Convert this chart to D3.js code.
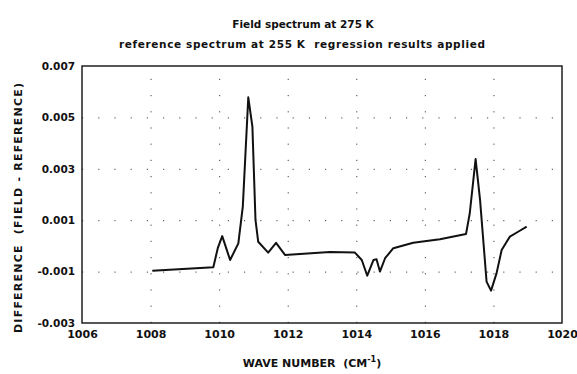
<!DOCTYPE html>
<html>
<head>
<meta charset="utf-8">
<script src="https://cdn.jsdelivr.net/npm/d3@7"></script>
<style>
  html, body { margin: 0; padding: 0; background: #fff; }
  svg { display: block; }
  text { font-family: "DejaVu Sans", "Liberation Sans", Arial, sans-serif; font-weight: bold; fill: #111; white-space: pre; }
</style>
</head>
<body>
<svg id="chart" width="577" height="374"></svg>
<script>
// Difference spectrum: field (275 K) minus reference (255 K)
const waveNumber = [
  1008.05, 1009.83, 1009.96, 1010.09, 1010.32, 1010.56, 1010.69, 1010.85,
  1010.97, 1011.06, 1011.14, 1011.43, 1011.66, 1011.92, 1013.23, 1013.96,
  1014.16, 1014.32, 1014.50, 1014.59, 1014.69, 1014.84, 1015.08, 1015.66,
  1016.44, 1017.20, 1017.31, 1017.48, 1017.61, 1017.80, 1017.93, 1018.09,
  1018.24, 1018.48, 1018.72, 1018.97
];
const difference = [
  -0.00097, -0.00083, -0.00009, 0.00038, -0.00055, 0.00010, 0.00153, 0.00578,
  0.00464, 0.00101, 0.00016, -0.00026, 0.00012, -0.00035, -0.00024, -0.00026,
  -0.00055, -0.00116, -0.00055, -0.00052, -0.00100, -0.00048, -0.00009, 0.00012,
  0.00026, 0.00046, 0.00127, 0.00338, 0.00179, -0.00139, -0.00174, -0.00107,
  -0.00016, 0.00036, 0.00055, 0.00075
];

const xTicks = [1006, 1008, 1010, 1012, 1014, 1016, 1018, 1020];
const yTicks = [-0.003, -0.001, 0.001, 0.003, 0.005, 0.007];

const titleLines = [
  "Field spectrum at 275 K",
  "reference spectrum at 255 K  regression results applied"
];
const xLabel = "WAVE NUMBER  (CM";
const xLabelSup = "-1";
const yLabel = "DIFFERENCE  (FIELD - REFERENCE)";

const svg = d3.select("#chart");
const margin = { left: 82, right: 15, top: 66, bottom: 51 };
const W = 577, H = 374;
const innerW = W - margin.left - margin.right;
const innerH = H - margin.top - margin.bottom;

const x = d3.scaleLinear().domain([1006, 1020]).range([0, innerW]);
const y = d3.scaleLinear().domain([-0.003, 0.007]).range([innerH, 0]);

const g = svg.append("g").attr("transform", `translate(${margin.left},${margin.top})`);

// dotted grid
const gridX = g.append("g")
  .attr("transform", `translate(0,${innerH})`)
  .call(d3.axisBottom(x).tickValues(xTicks.slice(1, -1)).tickSize(-innerH).tickFormat(""));
const gridY = g.append("g")
  .call(d3.axisLeft(y).tickValues(yTicks.slice(1, -1)).tickSize(-innerW).tickFormat(""));
[gridX, gridY].forEach(a => {
  a.select(".domain").remove();
  a.selectAll("line").attr("stroke", "#444").attr("stroke-width", 1)
    .attr("stroke-dasharray", "1.2,15");
});

// axes with labels only
const xAxis = g.append("g")
  .attr("transform", `translate(0,${innerH})`)
  .call(d3.axisBottom(x).tickValues(xTicks).tickSize(0).tickPadding(7).tickFormat(d3.format("d")));
xAxis.select(".domain").remove();
xAxis.selectAll("text").attr("font-size", 11).style("font-family", null);

const yAxis = g.append("g")
  .call(d3.axisLeft(y).tickValues(yTicks).tickSize(0).tickPadding(7).tickFormat(d => d.toFixed(3)));
yAxis.select(".domain").remove();
yAxis.selectAll("text").attr("font-size", 10.5).style("font-family", null);

// frame
g.append("rect")
  .attr("x", 0).attr("y", 0).attr("width", innerW).attr("height", innerH)
  .attr("fill", "none").attr("stroke", "#111").attr("stroke-width", 1.4);

// spectrum line
const pts = waveNumber.map((w, i) => [w, difference[i]]);
g.append("path")
  .datum(pts)
  .attr("fill", "none")
  .attr("stroke", "#111")
  .attr("stroke-width", 2)
  .attr("stroke-linejoin", "round")
  .attr("d", d3.line().x(d => x(d[0])).y(d => y(d[1])));

// titles
svg.append("text").attr("x", 303).attr("y", 27.5).attr("text-anchor", "middle")
  .attr("font-size", 10.5).text(titleLines[0]);
svg.append("text").attr("x", 302).attr("y", 47.5).attr("text-anchor", "middle")
  .attr("font-size", 10.5).attr("textLength", 366).attr("lengthAdjust", "spacing")
  .text(titleLines[1]);

// x axis title with superscript
const xt = svg.append("text").attr("x", 312).attr("y", 366.5).attr("text-anchor", "middle")
  .attr("font-size", 11);
xt.append("tspan").text(xLabel);
xt.append("tspan").attr("font-size", 8).attr("dy", -5).text(xLabelSup);
xt.append("tspan").attr("dy", 5).text(")");

// y axis title
svg.append("text")
  .attr("transform", "translate(22,208) rotate(-90)")
  .attr("text-anchor", "middle")
  .attr("font-size", 11)
  .attr("textLength", 250).attr("lengthAdjust", "spacing")
  .text(yLabel);
</script>
</body>
</html>
